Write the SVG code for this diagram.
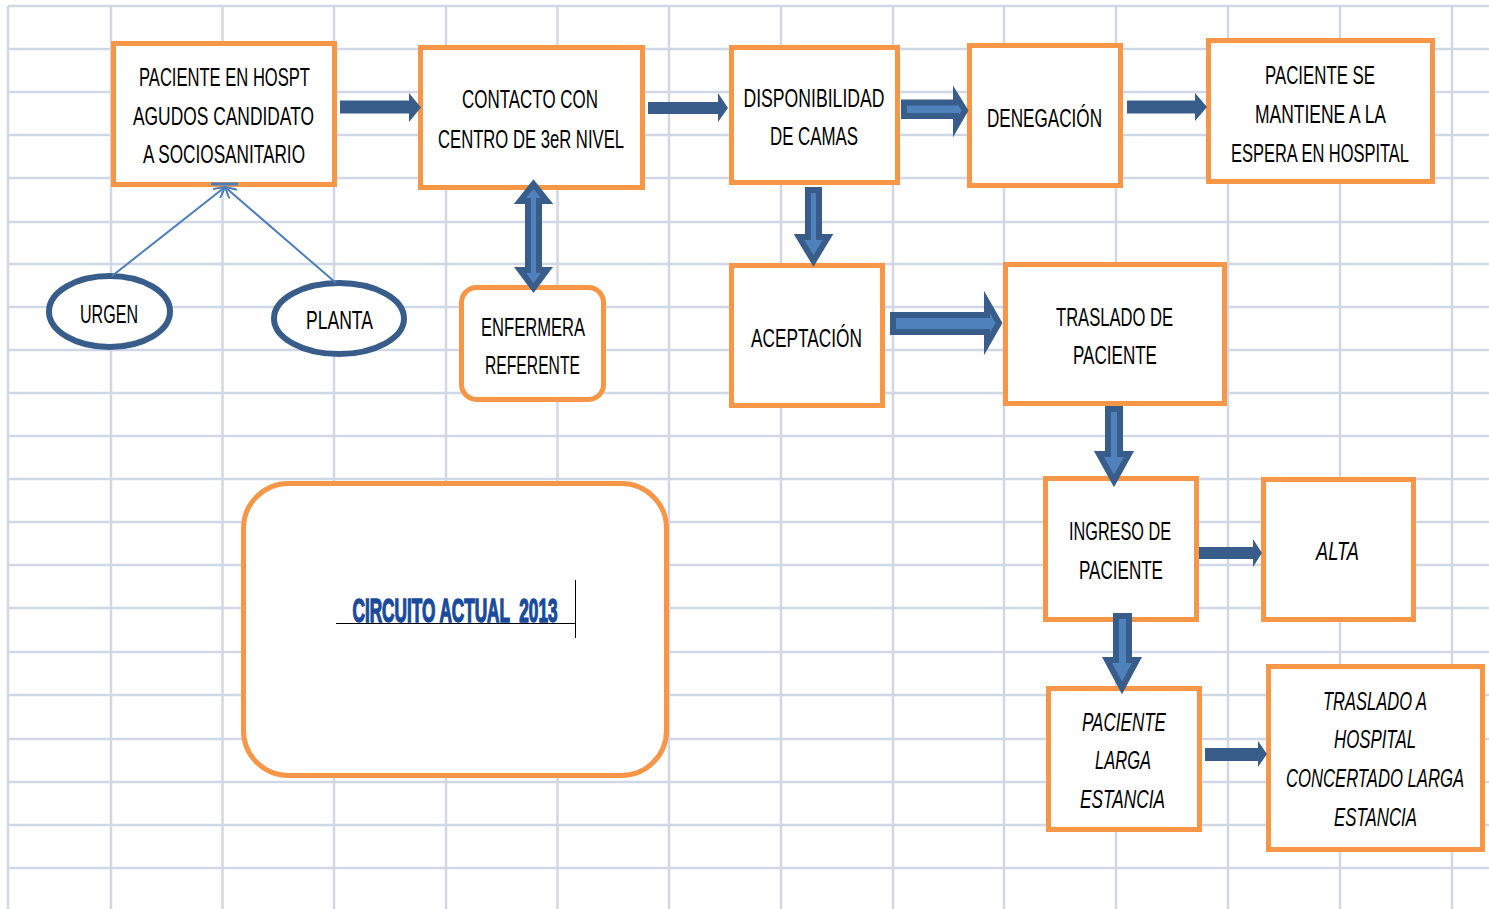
<svg xmlns="http://www.w3.org/2000/svg" width="1489" height="909" viewBox="0 0 1489 909">
<style>
.g line{stroke:#d0d7e5;stroke-width:2.5}
.box{fill:#fff;stroke:#f79646;stroke-width:5}
.ell{fill:#fff;stroke:#385d8a;stroke-width:6}
.t{font-family:"Liberation Sans",Arial,sans-serif;font-size:26px;fill:#000;text-anchor:middle}
.i{font-style:italic}
.ba{fill:#4f81bd;stroke:#385d8a;stroke-width:6;stroke-linejoin:miter}
.sa{fill:#385d8a}
.ln{stroke:#4a7ebb;stroke-width:2;fill:none}
.title{font-family:"Liberation Sans",Arial,sans-serif;font-size:33px;font-weight:bold;fill:#1a4a9c;stroke:#1a4a9c;stroke-width:1.5;text-anchor:middle;white-space:pre}
</style>
<defs>
<marker id="open" viewBox="0 0 12 12" refX="11" refY="6" markerWidth="12" markerHeight="12" markerUnits="userSpaceOnUse" orient="auto">
<path d="M0,0 L11,6 L0,12" fill="none" stroke="#4a7ebb" stroke-width="2"/>
</marker>
</defs>
<rect width="1489" height="909" fill="#fff"/>
<g class="g">
<line x1="8" y1="6" x2="8" y2="909"/><line x1="111" y1="6" x2="111" y2="909"/><line x1="222.5" y1="6" x2="222.5" y2="909"/><line x1="334" y1="6" x2="334" y2="909"/><line x1="446" y1="6" x2="446" y2="909"/><line x1="557.5" y1="6" x2="557.5" y2="909"/><line x1="669" y1="6" x2="669" y2="909"/><line x1="781" y1="6" x2="781" y2="909"/><line x1="893" y1="6" x2="893" y2="909"/><line x1="1004" y1="6" x2="1004" y2="909"/><line x1="1116" y1="6" x2="1116" y2="909"/><line x1="1228" y1="6" x2="1228" y2="909"/><line x1="1340" y1="6" x2="1340" y2="909"/><line x1="1452" y1="6" x2="1452" y2="909"/>
<line x1="8" y1="6" x2="1489" y2="6"/><line x1="8" y1="49" x2="1489" y2="49"/><line x1="8" y1="92" x2="1489" y2="92"/><line x1="8" y1="135" x2="1489" y2="135"/><line x1="8" y1="178" x2="1489" y2="178"/><line x1="8" y1="222" x2="1489" y2="222"/><line x1="8" y1="264" x2="1489" y2="264"/><line x1="8" y1="307" x2="1489" y2="307"/><line x1="8" y1="350" x2="1489" y2="350"/><line x1="8" y1="393" x2="1489" y2="393"/><line x1="8" y1="436" x2="1489" y2="436"/><line x1="8" y1="479" x2="1489" y2="479"/><line x1="8" y1="522" x2="1489" y2="522"/><line x1="8" y1="565" x2="1489" y2="565"/><line x1="8" y1="608" x2="1489" y2="608"/><line x1="8" y1="652" x2="1489" y2="652"/><line x1="8" y1="695" x2="1489" y2="695"/><line x1="8" y1="739" x2="1489" y2="739"/><line x1="8" y1="782" x2="1489" y2="782"/><line x1="8" y1="825" x2="1489" y2="825"/><line x1="8" y1="868" x2="1489" y2="868"/>
</g>

<g id="n-paciente-hospt"><rect class="box" x="113.5" y="43.5" width="221" height="141"/>
<text class="t" x="224.5" y="86" textLength="171" lengthAdjust="spacingAndGlyphs">PACIENTE EN HOSPT</text>
<text class="t" x="223.5" y="125" textLength="181" lengthAdjust="spacingAndGlyphs">AGUDOS CANDIDATO</text>
<text class="t" x="224" y="163" textLength="162" lengthAdjust="spacingAndGlyphs">A SOCIOSANITARIO</text></g>

<g id="n-contacto"><rect class="box" x="420.5" y="47.5" width="222" height="140"/>
<text class="t" x="530" y="108" textLength="136" lengthAdjust="spacingAndGlyphs">CONTACTO CON</text>
<text class="t" x="531" y="148" textLength="186" lengthAdjust="spacingAndGlyphs">CENTRO DE 3eR NIVEL</text></g>

<g id="n-disponibilidad"><rect class="box" x="731.5" y="47.5" width="166" height="135"/>
<text class="t" x="814" y="107" textLength="141" lengthAdjust="spacingAndGlyphs">DISPONIBILIDAD</text>
<text class="t" x="814" y="145" textLength="88" lengthAdjust="spacingAndGlyphs">DE CAMAS</text></g>

<g id="n-denegacion"><rect class="box" x="969.5" y="45.5" width="151" height="140"/>
<text class="t" x="1044.5" y="127" textLength="115" lengthAdjust="spacingAndGlyphs">DENEGACIÓN</text></g>

<g id="n-espera"><rect class="box" x="1208.5" y="40.5" width="224" height="141"/>
<text class="t" x="1320" y="84" textLength="110" lengthAdjust="spacingAndGlyphs">PACIENTE SE</text>
<text class="t" x="1320.5" y="123" textLength="131" lengthAdjust="spacingAndGlyphs">MANTIENE A LA</text>
<text class="t" x="1320" y="162" textLength="178" lengthAdjust="spacingAndGlyphs">ESPERA EN HOSPITAL</text></g>

<g id="n-urgen"><ellipse class="ell" cx="109.5" cy="311.5" rx="60.5" ry="35.5"/>
<text class="t" x="109" y="323" textLength="58" lengthAdjust="spacingAndGlyphs">URGEN</text></g>

<g id="n-planta"><ellipse class="ell" cx="339" cy="318.5" rx="65" ry="35.5"/>
<text class="t" x="339.5" y="329" textLength="67" lengthAdjust="spacingAndGlyphs">PLANTA</text></g>

<g id="n-enfermera"><rect class="box" x="461.5" y="287.5" width="142" height="112" rx="15"/>
<text class="t" x="533" y="336" textLength="104" lengthAdjust="spacingAndGlyphs">ENFERMERA</text>
<text class="t" x="532.5" y="374" textLength="95" lengthAdjust="spacingAndGlyphs">REFERENTE</text></g>

<g id="n-aceptacion"><rect class="box" x="731.5" y="265.5" width="151" height="140"/>
<text class="t" x="806.5" y="347" textLength="111" lengthAdjust="spacingAndGlyphs">ACEPTACIÓN</text></g>

<g id="n-traslado"><rect class="box" x="1005.5" y="264.5" width="219" height="139"/>
<text class="t" x="1114.5" y="326" textLength="117" lengthAdjust="spacingAndGlyphs">TRASLADO DE</text>
<text class="t" x="1115" y="364" textLength="84" lengthAdjust="spacingAndGlyphs">PACIENTE</text></g>

<g id="n-ingreso"><rect class="box" x="1045.5" y="478.5" width="151" height="141"/>
<text class="t" x="1120" y="540" textLength="102" lengthAdjust="spacingAndGlyphs">INGRESO DE</text>
<text class="t" x="1121" y="579" textLength="84" lengthAdjust="spacingAndGlyphs">PACIENTE</text></g>

<g id="n-alta"><rect class="box" x="1263.5" y="479.5" width="150" height="140"/>
<text class="t i" x="1337.5" y="560" textLength="43" lengthAdjust="spacingAndGlyphs">ALTA</text></g>

<g id="n-larga"><rect class="box" x="1048.5" y="688.5" width="151" height="141"/>
<text class="t i" x="1124" y="731" textLength="84" lengthAdjust="spacingAndGlyphs">PACIENTE</text>
<text class="t i" x="1123" y="769" textLength="56" lengthAdjust="spacingAndGlyphs">LARGA</text>
<text class="t i" x="1122.5" y="808" textLength="85" lengthAdjust="spacingAndGlyphs">ESTANCIA</text></g>

<g id="n-concertado"><rect class="box" x="1268.5" y="666.5" width="214" height="183"/>
<text class="t i" x="1375" y="710" textLength="104" lengthAdjust="spacingAndGlyphs">TRASLADO A</text>
<text class="t i" x="1375" y="748" textLength="82" lengthAdjust="spacingAndGlyphs">HOSPITAL</text>
<text class="t i" x="1375" y="787" textLength="178" lengthAdjust="spacingAndGlyphs">CONCERTADO LARGA</text>
<text class="t i" x="1375.5" y="826" textLength="83" lengthAdjust="spacingAndGlyphs">ESTANCIA</text></g>

<g id="n-circuito"><rect class="box" x="243.5" y="483.5" width="423" height="292" rx="45"/>
<text class="title" x="455" y="622" textLength="205" lengthAdjust="spacingAndGlyphs">CIRCUITO ACTUAL  2013</text>
<line x1="336" y1="623.5" x2="575" y2="623.5" stroke="#000" stroke-width="1"/>
<line x1="575.5" y1="580" x2="575.5" y2="638" stroke="#000" stroke-width="1"/></g>

<g id="connectors">
<line class="ln" x1="112" y1="276" x2="225" y2="187" marker-end="url(#open)"/>
<line class="ln" x1="336" y1="283" x2="225" y2="187" marker-end="url(#open)"/>
<line x1="211" y1="184" x2="238" y2="184" stroke="#4a7ebb" stroke-width="3"/>
<polygon class="sa" points="340,100.5 409,100.5 409,93 421,107.5 409,122 409,113.5 340,113.5"/>
<polygon class="sa" points="648,102 718,102 718,93 728,108 718,122 718,114 648,114"/>
<polygon class="sa" points="1127,100.5 1195,100.5 1195,93 1207,107 1195,121 1195,113.5 1127,113.5"/>
<polygon class="sa" points="1199,547 1253,547 1253,539 1262,553 1253,567 1253,559 1199,559"/>
<polygon class="sa" points="1205,748 1258,748 1258,741 1267,754 1258,767 1258,761 1205,761"/>
<polygon class="ba" points="904,102.5 956,102.5 956,96 965,110.5 956,126 956,116 904,116"/>
<polygon class="ba" points="893,315 987,315 987,302 999,323 987,344 987,332 893,332"/>
<polygon class="ba" points="808,190 819,190 819,237 828,237 813.5,261 799,237 808,237"/>
<polygon class="ba" points="533.5,184 547,201 539,201 539,270 547,270 533.5,288 520,270 528,270 528,201 520,201"/>
<polygon class="ba" points="1108,409 1120,409 1120,454 1129,454 1114,481 1099,454 1108,454"/>
<polygon class="ba" points="1116,616 1129,616 1129,660 1137,660 1122,688 1107,660 1116,660"/>
</g>
</svg>
